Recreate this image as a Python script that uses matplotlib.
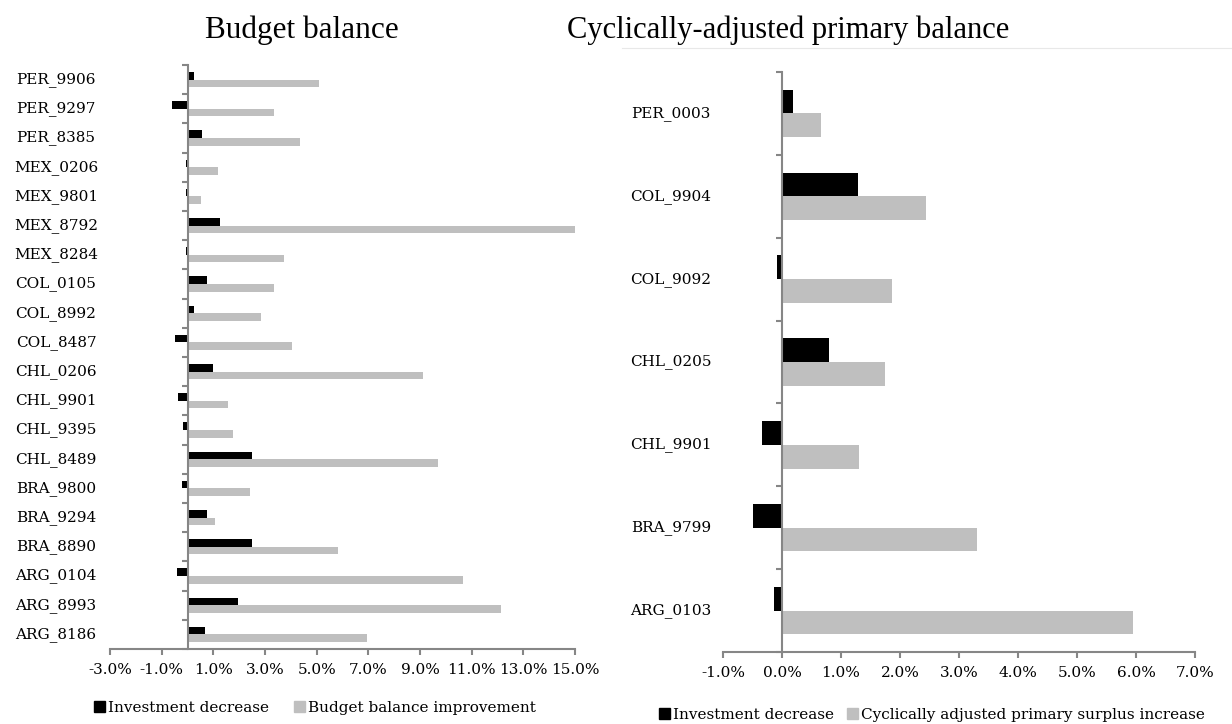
import numpy as np
import matplotlib
matplotlib.use('Agg')
import matplotlib.pyplot as plt
import matplotlib.patches as mpatches
from matplotlib.lines import Line2D

# left panel: budget balance episodes (bottom to top, as in the original)
bb_labels = ['ARG_8186', 'ARG_8993', 'ARG_0104', 'BRA_8890', 'BRA_9294', 'BRA_9800',
             'CHL_8489', 'CHL_9395', 'CHL_9901', 'CHL_0206', 'COL_8487', 'COL_8992',
             'COL_0105', 'MEX_8284', 'MEX_8792', 'MEX_9801', 'MEX_0206', 'PER_8385',
             'PER_9297', 'PER_9906']
bb_invest = [0.69, 1.94, -0.42, 2.49, 0.75, -0.23, 2.49, -0.17, -0.35, 1.00,
             -0.48, 0.26, 0.75, -0.04, 1.25, -0.04, -0.04, 0.57, -0.60, 0.26]
bb_improve = [6.95, 12.15, 10.66, 5.83, 1.08, 2.43, 9.68, 1.75, 1.57, 9.10,
              4.03, 2.86, 3.35, 3.72, 15.20, 0.51, 1.18, 4.34, 3.35, 5.08]
bb_xticks = [-3, -1, 1, 3, 5, 7, 9, 11, 13, 15]

# right panel: cyclically-adjusted primary balance episodes
ca_labels = ['ARG_0103', 'BRA_9799', 'CHL_9901', 'CHL_0205', 'COL_9092', 'COL_9904', 'PER_0003']
ca_invest = [-0.13, -0.49, -0.34, 0.79, -0.09, 1.28, 0.19]
ca_surplus = [5.95, 3.30, 1.30, 1.74, 1.86, 2.44, 0.66]
ca_xticks = [-1, 0, 1, 2, 3, 4, 5, 6, 7]

BLACK = '#000000'
GREY = '#bfbfbf'
AXC = '#868686'
small_font = 'DejaVu Serif'
title_font = 'Liberation Serif'

fig = plt.figure(figsize=(12.32, 7.24), dpi=100)
W, H = 1232, 724


def panel(rect, labels, inv, other, xticks, bar_h, label_x):
    ax = fig.add_axes([rect[0] / W, 1 - rect[3] / H, (rect[2] - rect[0]) / W, (rect[3] - rect[1]) / H])
    n = len(labels)
    y = np.arange(n)
    ax.barh(y + bar_h / 2, inv, height=bar_h, color=BLACK, zorder=2)
    ax.barh(y - bar_h / 2, other, height=bar_h, color=GREY, zorder=2)
    ax.set_xlim(xticks[0], xticks[-1])
    ax.set_ylim(-0.5, n - 0.5)
    for s in ['top', 'right']:
        ax.spines[s].set_visible(False)
    ax.spines['left'].set_position(('data', 0))
    for s in ['left', 'bottom']:
        ax.spines[s].set_color(AXC)
        ax.spines[s].set_linewidth(1.5)
    ax.set_yticks(np.arange(n + 1) - 0.5)
    ax.set_yticklabels([])
    ax.tick_params(axis='y', length=4, width=1.5, color=AXC, direction='out')
    ax.set_xticks(xticks)
    ax.set_xticklabels(['%.1f%%' % t for t in xticks], fontsize=11, family=small_font)
    ax.tick_params(axis='x', length=4, width=1.5, color=AXC, direction='out', pad=6)
    trans = matplotlib.transforms.blended_transform_factory(fig.transFigure, ax.transData)
    for yi, lab in zip(y, labels):
        ax.text(label_x / W, yi, lab, transform=trans, ha='center', va='center',
                fontsize=11, family=small_font)
    return ax


ax1 = panel((110, 65, 575, 649), bb_labels, bb_invest, bb_improve, bb_xticks, 0.26, 56)
ax2 = panel((723, 72, 1195, 652), ca_labels, ca_invest, ca_surplus, ca_xticks, 0.286, 671)

fig.text(302 / W, 1 - 30 / H, 'Budget balance', ha='center', va='center',
         fontsize=22.5, family=title_font)
fig.text(567 / W, 1 - 30 / H, 'Cyclically-adjusted primary balance', ha='left', va='center',
         fontsize=22, family=title_font)
fig.add_artist(Line2D([622 / W, 1], [1 - 48 / H, 1 - 48 / H], color='#e8e8e8', lw=0.8))

h1 = [mpatches.Patch(color=BLACK, label='Investment decrease'),
      mpatches.Patch(color=GREY, label='Budget balance improvement')]
fig.legend(handles=h1, loc='center', bbox_to_anchor=(315 / W, 1 - 708 / H), ncol=2,
           frameon=False, handlelength=0.75, handleheight=0.75, handletextpad=0.2,
           columnspacing=1.6, prop={'family': small_font, 'size': 11})
h2 = [mpatches.Patch(color=BLACK, label='Investment decrease'),
      mpatches.Patch(color=GREY, label='Cyclically adjusted primary surplus increase')]
fig.legend(handles=h2, loc='center', bbox_to_anchor=(932 / W, 1 - 715 / H), ncol=2,
           frameon=False, handlelength=0.75, handleheight=0.75, handletextpad=0.2,
           columnspacing=0.8, prop={'family': small_font, 'size': 11})

fig.savefig('out.png', dpi=100)
